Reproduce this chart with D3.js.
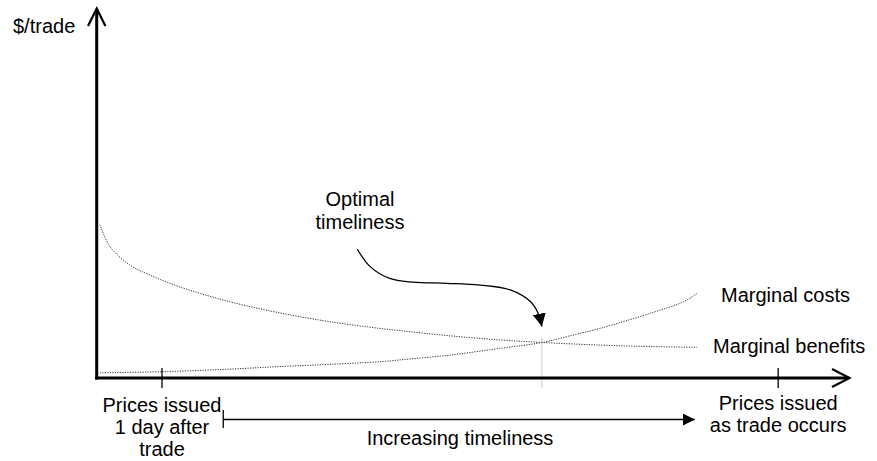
<!DOCTYPE html>
<html>
<head>
<meta charset="utf-8">
<script src="https://cdn.jsdelivr.net/npm/d3@7"></script>
<style>
  html, body { margin: 0; padding: 0; background: #fff; }
  svg { display: block; }
  text { font-family: "Liberation Sans", Arial, sans-serif; font-size: 20px; fill: #000; }
</style>
</head>
<body>
<svg id="chart" width="877" height="461"></svg>
<script>
// ---- data (timeliness 0..100 along x, $/trade 0..100 along y) ----
const benefitsX = [0.44, 1.77, 4.42, 7.08, 11.06, 17.7, 24.3, 31.0, 37.6, 40.3, 46.9, 53.5, 59.1, 66.8, 73.5, 79.7];
const benefitsY = [41.4, 35.5, 30.5, 27.8, 24.6, 20.6, 17.6, 15.2, 13.4, 12.8, 11.4, 10.3, 9.6, 8.9, 8.5, 8.3];
const costsX = [0.44, 8.6, 17.7, 24.3, 31.0, 37.6, 40.3, 46.9, 53.5, 59.1, 63.6, 66.8, 73.5, 77.9, 79.7];
const costsY = [1.4, 1.7, 2.4, 3.1, 3.7, 4.4, 4.9, 6.2, 8.0, 9.6, 11.8, 13.4, 17.5, 20.6, 22.9];
const optimumX = 59.1;
const tickValues = [8.6, 90.4];
const tickLabels = [["Prices issued", "1 day after", "trade"], ["Prices issued", "as trade occurs"]];
const seriesLabels = ["Marginal costs", "Marginal benefits"];
const yLabel = "$/trade";
const optimumLabel = ["Optimal", "timeliness"];
const directionLabel = "Increasing timeliness";
const calloutX = [34.6, 36.3, 38.9, 42.0, 46.5, 50.9, 54.9, 57.6, 58.6, 59.1];
const calloutY = [34.8, 30.1, 26.9, 25.9, 25.6, 25.1, 23.8, 20.6, 17.5, 13.9];
const directionStart = 16.8, directionEnd = 79.4;

// ---- scales ----
const x = d3.scaleLinear().domain([0, 100]).range([96.7, 850]);
const y = d3.scaleLinear().domain([0, 100]).range([378, 8]);

const svg = d3.select("#chart");
const defs = svg.append("defs");
defs.append("marker").attr("id", "tri").attr("viewBox", "0 0 13 13")
  .attr("refX", 13).attr("refY", 6.5).attr("markerWidth", 13).attr("markerHeight", 13)
  .attr("markerUnits", "userSpaceOnUse").attr("orient", "auto")
  .append("path").attr("d", "M0,0 L13,6.5 L0,13 Z").attr("fill", "#000");
defs.append("marker").attr("id", "tri2").attr("viewBox", "0 0 12 12")
  .attr("refX", 12).attr("refY", 6).attr("markerWidth", 12).attr("markerHeight", 12)
  .attr("markerUnits", "userSpaceOnUse").attr("orient", "auto")
  .append("path").attr("d", "M0,0 L12,6 L0,12 Z").attr("fill", "#000");

// curves
const line = d3.line().x(d => x(d[0])).y(d => y(d[1])).curve(d3.curveCatmullRom.alpha(0.5));
svg.append("path").datum(benefitsX.map((v, i) => [v, benefitsY[i]]))
  .attr("d", line).attr("fill", "none").attr("stroke", "#333").attr("stroke-width", 1)
  .attr("stroke-dasharray", "1.2,1.3");
svg.append("path").datum(costsX.map((v, i) => [v, costsY[i]]))
  .attr("d", line).attr("fill", "none").attr("stroke", "#333").attr("stroke-width", 1)
  .attr("stroke-dasharray", "1.2,1.3");

// optimum drop line
svg.append("line").attr("x1", x(optimumX)).attr("x2", x(optimumX))
  .attr("y1", y(costsY[costsX.indexOf(optimumX)]) - 5).attr("y2", 388)
  .attr("stroke", "#999").attr("stroke-width", 1).attr("stroke-dasharray", "1,1");

// x axis ticks via d3 axis
const xAxis = d3.axisBottom(x).tickValues(tickValues).tickSize(20).tickFormat("");
const gx = svg.append("g").attr("transform", "translate(0,368)").call(xAxis);
gx.select(".domain").remove();
gx.selectAll(".tick line").attr("stroke", "#000").attr("stroke-width", 1.3);
gx.selectAll(".tick text").remove();
gx.selectAll(".tick").each(function(d, i) {
  const t = d3.select(this).append("text").attr("text-anchor", "middle").attr("fill", "#000")
    .style("font-size", "20px");
  const base = i === 0 ? 44 : 42;
  tickLabels[i].forEach((s, j) => {
    t.append("tspan").attr("x", 0).attr("y", base + j * 22).text(s);
  });
});

// axes lines
svg.append("line").attr("x1", x(0)).attr("x2", x(0)).attr("y1", y(0) + 1.5).attr("y2", 9)
  .attr("stroke", "#000").attr("stroke-width", 3);
svg.append("line").attr("x1", x(0) - 1.5).attr("x2", 849).attr("y1", y(0)).attr("y2", y(0))
  .attr("stroke", "#000").attr("stroke-width", 3);
// open arrowheads
svg.append("path").attr("d", `M${x(0) - 8.7},26 L${x(0)},8.5 L${x(0) + 8.7},26`)
  .attr("fill", "none").attr("stroke", "#000").attr("stroke-width", 2.2);
svg.append("path").attr("d", `M832,${y(0) - 9} L849.5,${y(0)} L832,${y(0) + 9}`)
  .attr("fill", "none").attr("stroke", "#000").attr("stroke-width", 2.2);

// y label
svg.append("text").attr("x", 13).attr("y", 33).text(yLabel);

// series labels
svg.append("text").attr("x", 721).attr("y", 302).text(seriesLabels[0]);
svg.append("text").attr("x", 713).attr("y", 353).text(seriesLabels[1]);

// optimum label
const ot = svg.append("text").attr("text-anchor", "middle");
optimumLabel.forEach((s, j) => ot.append("tspan").attr("x", 360).attr("y", 206 + j * 23).text(s));

// callout arrow
const cl = d3.line().x(d => x(d[0])).y(d => y(d[1])).curve(d3.curveCatmullRom);
svg.append("path").datum(calloutX.map((v, i) => [v, calloutY[i]]))
  .attr("d", cl).attr("fill", "none").attr("stroke", "#000").attr("stroke-width", 1.3)
  .attr("marker-end", "url(#tri)");

// direction arrow
svg.append("line").attr("x1", x(directionStart)).attr("x2", x(directionEnd))
  .attr("y1", 419.5).attr("y2", 419.5).attr("stroke", "#000").attr("stroke-width", 1.3)
  .attr("marker-end", "url(#tri2)");
svg.append("line").attr("x1", x(directionStart)).attr("x2", x(directionStart))
  .attr("y1", 410).attr("y2", 428).attr("stroke", "#000").attr("stroke-width", 1.3);
svg.append("text").attr("x", 460).attr("y", 445).attr("text-anchor", "middle").text(directionLabel);
</script>
</body>
</html>
